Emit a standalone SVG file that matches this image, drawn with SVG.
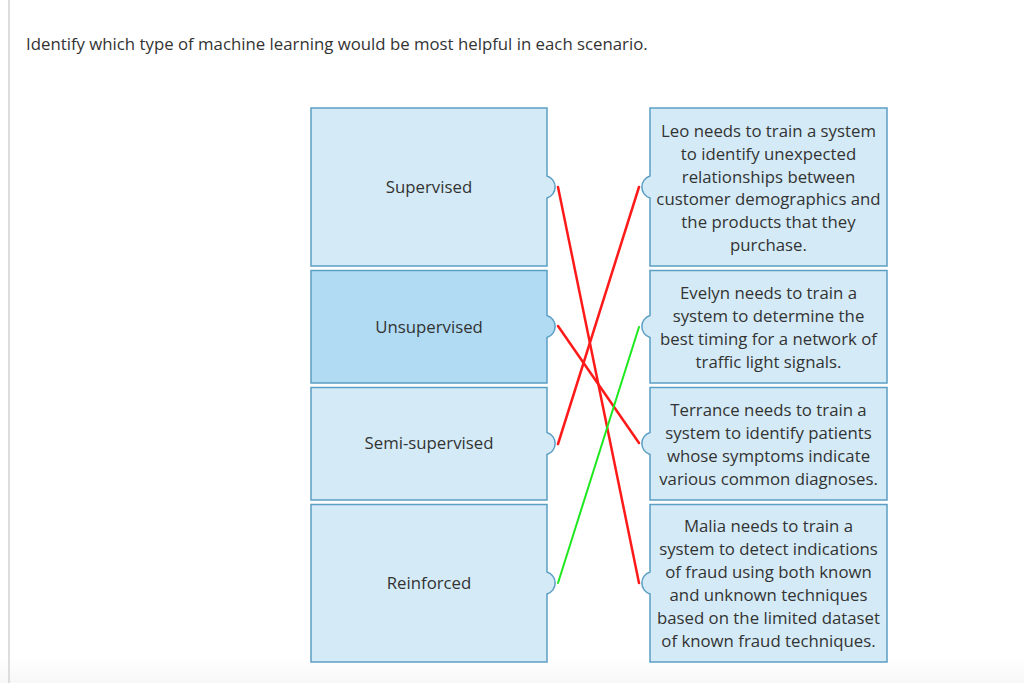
<svg xmlns="http://www.w3.org/2000/svg" width="1024" height="683" viewBox="0 0 1024 683">
<defs>
<linearGradient id="fade" x1="0" y1="0" x2="0" y2="1">
<stop offset="0" stop-color="#ffffff"/>
<stop offset="1" stop-color="#f7f7f7"/>
</linearGradient>
</defs>
<style>
text{font-family:"Open Sans","Noto Sans","Liberation Sans",sans-serif;fill:#333333;font-size:16.8px}
.title{font-size:16.8px}
.c{text-anchor:middle}
.box{fill:#d4ebf7;stroke:#5b9ec4;stroke-width:1.5}
.sel{fill:#b0dbf3}
.red{stroke:#ff1a1a;stroke-width:2.5;fill:none;stroke-linecap:round}
.green{stroke:#1ee81e;stroke-width:2;fill:none;stroke-linecap:round}
</style>
<rect x="0" y="0" width="1024" height="683" fill="#ffffff"/>
<rect x="0" y="658" width="1024" height="25" fill="url(#fade)"/>
<rect x="8" y="0" width="2" height="683" fill="#dddddd"/>
<text class="title" x="26" y="50">Identify which type of machine learning would be most helpful in each scenario.</text>

<g id="supervised">
<path class="box" d="M311,108 H547 V176 A11.5,11.5 0 0 1 547,198 V266 H311 Z"/>
<text class="c" x="429" y="193">Supervised</text>
</g>
<g id="unsupervised">
<path class="box sel" d="M311,270.5 H547 V315.5 A11.5,11.5 0 0 1 547,337.5 V383 H311 Z"/>
<text class="c" x="429" y="333">Unsupervised</text>
</g>
<g id="semi-supervised">
<path class="box" d="M311,387.5 H547 V432.5 A11.5,11.5 0 0 1 547,454.5 V500 H311 Z"/>
<text class="c" x="429" y="449">Semi-supervised</text>
</g>
<g id="reinforced">
<path class="box" d="M311,504.5 H547 V572 A11.5,11.5 0 0 1 547,594 V662 H311 Z"/>
<text class="c" x="429" y="589">Reinforced</text>
</g>

<g id="leo">
<path class="box" d="M650,108 H887 V266 H650 V198 A11.5,11.5 0 0 1 650,176 Z"/>
<text class="c" x="768.5" y="137">Leo needs to train a system</text>
<text class="c" x="768.5" y="160">to identify unexpected</text>
<text class="c" x="768.5" y="183">relationships between</text>
<text class="c" x="768.5" y="205">customer demographics and</text>
<text class="c" x="768.5" y="228">the products that they</text>
<text class="c" x="768.5" y="251">purchase.</text>
</g>
<g id="evelyn">
<path class="box" d="M650,270.5 H887 V383 H650 V337.5 A11.5,11.5 0 0 1 650,315.5 Z"/>
<text class="c" x="768.5" y="299">Evelyn needs to train a</text>
<text class="c" x="768.5" y="322">system to determine the</text>
<text class="c" x="768.5" y="345">best timing for a network of</text>
<text class="c" x="768.5" y="368">traffic light signals.</text>
</g>
<g id="terrance">
<path class="box" d="M650,387.5 H887 V500 H650 V454.5 A11.5,11.5 0 0 1 650,432.5 Z"/>
<text class="c" x="768.5" y="416">Terrance needs to train a</text>
<text class="c" x="768.5" y="439">system to identify patients</text>
<text class="c" x="768.5" y="462">whose symptoms indicate</text>
<text class="c" x="768.5" y="485">various common diagnoses.</text>
</g>
<g id="malia">
<path class="box" d="M650,504.5 H887 V662 H650 V594 A11.5,11.5 0 0 1 650,572 Z"/>
<text class="c" x="768.5" y="532">Malia needs to train a</text>
<text class="c" x="768.5" y="555">system to detect indications</text>
<text class="c" x="768.5" y="578">of fraud using both known</text>
<text class="c" x="768.5" y="601">and unknown techniques</text>
<text class="c" x="768.5" y="624">based on the limited dataset</text>
<text class="c" x="768.5" y="647">of known fraud techniques.</text>
</g>

<g id="connectors">
<line class="red" x1="558" y1="187" x2="639" y2="583"/>
<line class="red" x1="558" y1="326" x2="639" y2="443"/>
<line class="red" x1="558" y1="444" x2="639" y2="187"/>
<line class="green" x1="558" y1="583" x2="639" y2="327"/>
</g>
</svg>
